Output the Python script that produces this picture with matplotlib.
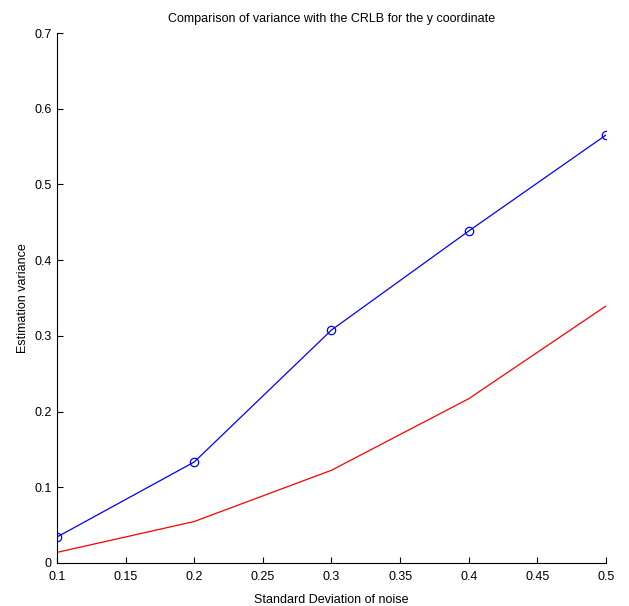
import numpy as np
import matplotlib
matplotlib.use("Agg")
import matplotlib.pyplot as plt

plt.rcParams["font.family"] = "Liberation Sans"
plt.rcParams["font.size"] = 8

### Data ###
sigma = [0.1, 0.2, 0.3, 0.4, 0.5]
var_est = [0.0343, 0.1334, 0.3077, 0.4385, 0.5653]
crlb = [0.0140, 0.0548, 0.1225, 0.2170, 0.3395]

fig = plt.figure(figsize=(6.29, 6.06), dpi=100)
ax = fig.add_axes([0.0906, 0.071, 0.8728, 0.8745])

ax.plot(sigma, var_est, color="blue", lw=0.9, marker="o", ms=6, mfc="none", mew=0.9)
ax.plot(sigma, crlb, color="red", lw=0.9)

ax.set_xlim(0.1, 0.5)
ax.set_ylim(0, 0.7)
ax.set_xticks(np.arange(0.1, 0.51, 0.05))
ax.set_xticklabels(["0.1", "0.15", "0.2", "0.25", "0.3", "0.35", "0.4", "0.45", "0.5"])
ax.set_yticks(np.arange(0, 0.71, 0.1))
ax.set_yticklabels(["0", "0.1", "0.2", "0.3", "0.4", "0.5", "0.6", "0.7"])
ax.spines["top"].set_visible(False)
ax.spines["right"].set_visible(False)
ax.tick_params(direction="in", length=4, width=0.8, labelsize=9)
ax.tick_params(axis="x", pad=6)
ax.tick_params(axis="y", pad=4)
ax.set_xlabel("Standard Deviation of noise", fontsize=9, labelpad=8)
ax.set_ylabel("Estimation variance", fontsize=9, labelpad=4)
ax.set_title("Comparison of variance with the CRLB for the y coordinate", fontsize=9, pad=8)

fig.savefig("out.png", dpi=100)
